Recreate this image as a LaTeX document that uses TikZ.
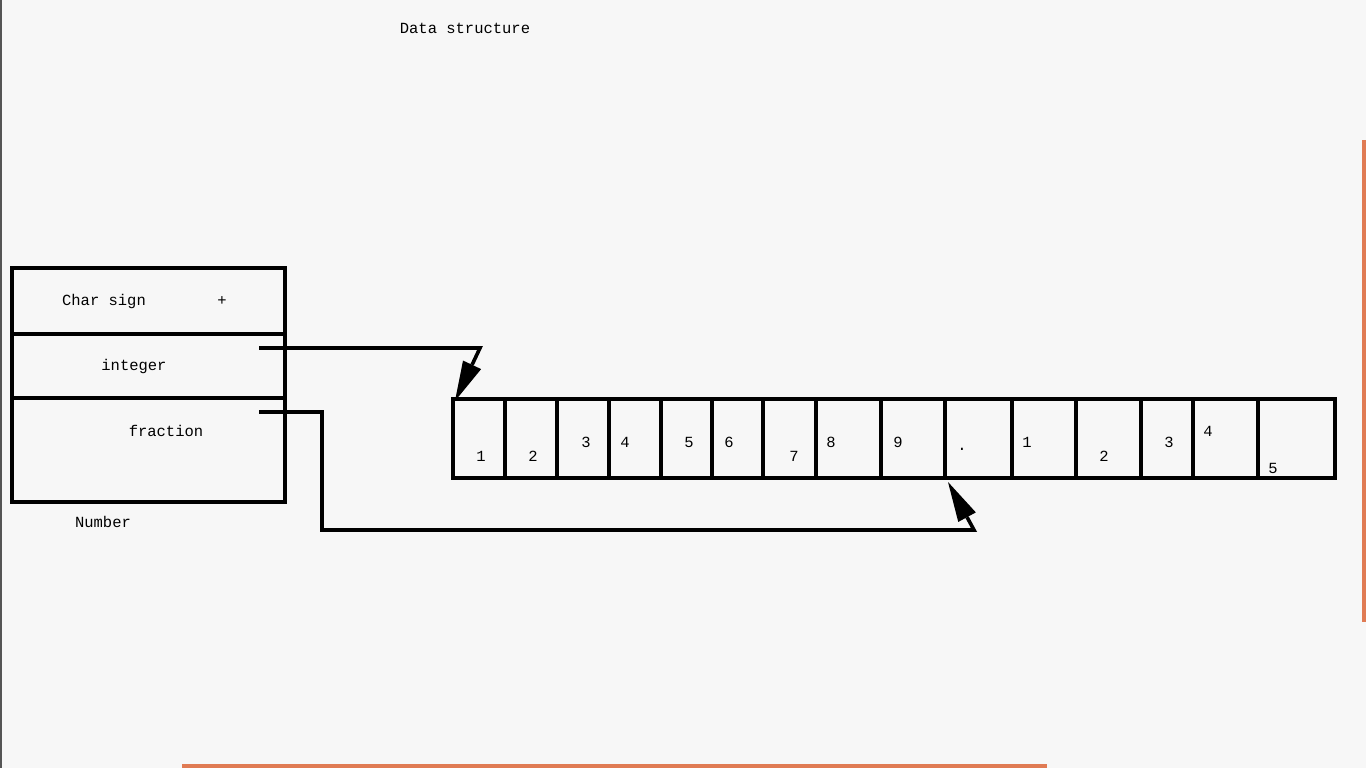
\documentclass[tikz,border=0pt]{standalone}
\usepackage{fontspec}
\setmonofont{Liberation Mono}
\usetikzlibrary{arrows.meta,calc}
\definecolor{bg}{RGB}{247,247,247}
\definecolor{edgeorange}{RGB}{224,123,84}
\definecolor{edgegrey}{RGB}{85,85,85}
\begin{document}
\begin{tikzpicture}[x=1pt,y=-1pt,
  lbl/.style={font=\ttfamily\fontsize{15.5}{18}\selectfont, inner sep=0pt, text=black},
  cellbox/.style={draw=black, line width=3.6pt, inner sep=0pt, outer sep=0pt, anchor=north west},
  link/.style={draw=black, line width=3.6pt, line join=miter},
  headtip/.style={-{Triangle[length=40pt,width=20pt,line width=0pt]}}
]
% background and page frame
\fill[bg] (0,0) rectangle (1366,768);
\useasboundingbox (0,0) rectangle (1366,768);
\fill[edgegrey] (0,0) rectangle (1.5,768);
\fill[edgeorange] (1362,140) rectangle (1366,622);
\fill[edgeorange] (182,764) rectangle (1047,768);

% title
\node[lbl] (title) at (465,28) {Data structure};

% record box
\node[cellbox, minimum width=273pt, minimum height=66pt] (sign) at (12,268) {};
\node[cellbox, minimum width=273pt, minimum height=64pt] (int) at (12,334) {};
\node[cellbox, minimum width=273pt, minimum height=104pt] (frac) at (12,398) {};
\node[lbl] (signtxt) at (104,301) {Char sign};
\node[lbl] (plus) at (222,301) {+};
\node[lbl] (inttxt) at (134,366) {integer};
\node[lbl] (fractxt) at (166,431) {fraction};
\node[lbl] (numtxt) at (103,522) {Number};

% array of characters
\foreach \i/\a/\b in {1/453/505, 2/505/557, 3/557/609, 4/609/661, 5/661/712,
  6/712/763, 7/763/816, 8/816/881, 9/881/945, 10/945/1012, 11/1012/1076,
  12/1076/1141, 13/1141/1193, 14/1193/1258, 15/1258/1335}{
  \pgfmathsetmacro{\w}{\b-\a}
  \node[cellbox, minimum width=\w pt, minimum height=79pt] (c\i) at (\a,399) {};
}
\node[lbl] (d1) at (481,456) {1};
\node[lbl] (d2) at (533,456) {2};
\node[lbl] (d3) at (586,442) {3};
\node[lbl] (d4) at (625,442) {4};
\node[lbl] (d5) at (689,442) {5};
\node[lbl] (d6) at (729,442) {6};
\node[lbl] (d7) at (794,456) {7};
\node[lbl] (d8) at (831,442) {8};
\node[lbl] (d9) at (898,442) {9};
\node[lbl] (d10) at (962,449) {.};
\node[lbl] (d11) at (1027,442) {1};
\node[lbl] (d12) at (1104,456) {2};
\node[lbl] (d13) at (1169,442) {3};
\node[lbl] (d14) at (1208,431) {4};
\node[lbl] (d15) at (1273,468) {5};

% connector anchors
\coordinate (intstart) at (259,348);
\coordinate (intbend) at (480,348);
\coordinate (fracstart) at (259,412);
\coordinate (fracbendA) at (322,412);
\coordinate (fracbendB) at (322,530);
\coordinate (fracbendC) at (974,530);

% connectors
\draw[link, headtip] (intstart) -- (intbend) -- ([shift={(2,2)}]c1.north west);
\draw[link, headtip] (fracstart) -- (fracbendA) -- (fracbendB) -- (fracbendC) -- ([shift={(3,4)}]c10.south west);
\end{tikzpicture}
\end{document}
